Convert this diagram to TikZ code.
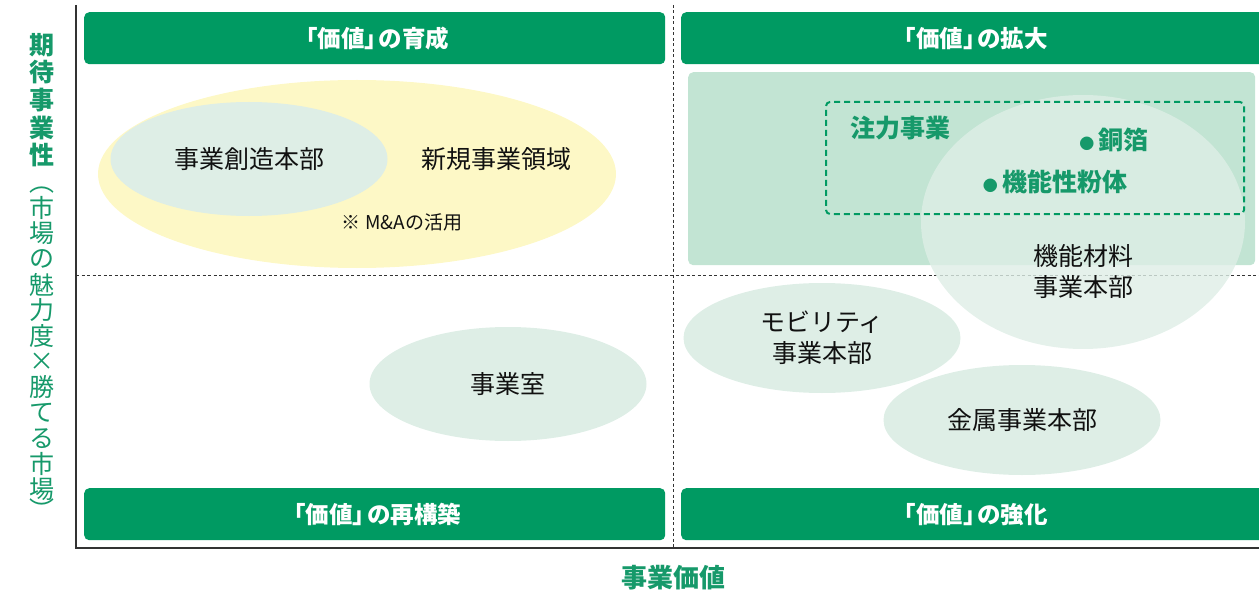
\documentclass[tikz,border=0pt]{standalone}
\usepackage{fontspec}
\setmainfont{Noto Sans CJK JP}
\usetikzlibrary{shapes.geometric}
\definecolor{hdr}{HTML}{009A62}
\definecolor{gtext}{HTML}{16996A}
\definecolor{mint}{HTML}{C2E4D3}
\definecolor{pale}{HTML}{DEEEE6}
\definecolor{yel}{HTML}{FDF8C6}
\definecolor{ink}{HTML}{111111}
\definecolor{axisc}{HTML}{333333}
\newcommand{\kaccho}[1]{\kern-0.25em「#1」\kern-0.4em}
\begin{document}
\begin{tikzpicture}[x=1pt,y=-1pt,
  hdrbox/.style={fill=hdr, rounded corners=5pt, text=white, minimum height=52, anchor=north west, inner sep=0,
    font=\fontsize{23.5}{26}\selectfont\bfseries},
  blob/.style={ellipse, fill=pale, inner sep=0, text=ink, align=center,
    font=\fontsize{25}{31}\selectfont},
  lbl/.style={text=ink, align=center, font=\fontsize{25}{31}\selectfont},
  glbl/.style={text=gtext, font=\fontsize{25}{28}\selectfont\bfseries},
  axisline/.style={draw=axisc, line width=1.1pt},
  gridline/.style={draw=axisc, line width=0.8pt, dash pattern=on 3pt off 2.5pt},
  ychar/.style={text=gtext, font=\fontsize{25}{27}\selectfont},
]
\useasboundingbox (0,0) rectangle (1259,591);

% grid and axes
\coordinate (vtop) at (673,5);
\coordinate (vbot) at (673,548);
\coordinate (hl) at (76,275);
\coordinate (hr) at (1259,275);
\coordinate (ytop) at (76,5);
\coordinate (orig) at (76,548);
\coordinate (xend) at (1259,548);
\draw[gridline] (vtop) -- (vbot);
\draw[gridline] (hl) -- (hr);
\draw[axisline] (ytop) -- (orig) -- (xend);

% headers
\node[hdrbox, minimum width=581] (h1) at (84,12) {\kaccho{価値}の育成};
\node[hdrbox, minimum width=584] (h2) at (681,12) {\kaccho{価値}の拡大};
\node[hdrbox, minimum width=581] (h3) at (84,488) {\kaccho{価値}の再構築};
\node[hdrbox, minimum width=584] (h4) at (681,488) {\kaccho{価値}の強化};

% top-left quadrant
\node[ellipse, fill=yel, minimum width=518, minimum height=188, inner sep=0] (newarea) at (357,174) {};
\node[blob, minimum width=277, minimum height=114] (souzou) at (249,159) {事業創造本部};
\node[lbl] (newlbl) at (496,159) {新規事業領域};
\node[text=ink, font=\fontsize{19}{22}\selectfont] (ma) at (402,222) {※ M\&Aの活用};

% top-right quadrant
\node[fill=mint, rounded corners=5pt, minimum width=567, minimum height=193, anchor=north west, inner sep=0] (focusarea) at (688,72) {};
\node[ellipse, fill=pale, fill opacity=0.8, minimum width=324, minimum height=254, inner sep=0] (kinou) at (1083,222) {};
\node[draw=hdr, line width=2pt, dash pattern=on 6pt off 4pt, rounded corners=4pt, minimum width=418, minimum height=112, anchor=north west, inner sep=0] (focusbox) at (825,101) {};
\node[glbl] (focuslbl) at (900,128) {注力事業};
\node[glbl] (douhaku) at (1114,140) {{\fontsize{15}{16}\selectfont ●}\,銅箔};
\node[glbl] (funtai) at (1055,182) {{\fontsize{15}{16}\selectfont ●}\,機能性粉体};
\node[lbl] (kinoulbl) at (1083,272) {機能材料\\事業本部};

% bottom quadrants
\node[blob, minimum width=277, minimum height=114] (jigyoushitsu) at (508,384) {事業室};
\node[blob, minimum width=277, minimum height=110] (mobility) at (822,338) {モビリティ\\事業本部};
\node[blob, minimum width=277, minimum height=110] (kinzoku) at (1022,420) {金属事業本部};

% axis labels
\node[text=gtext, font=\fontsize{26}{28}\selectfont\bfseries] (xlabel) at (673,578) {事業価値};
\foreach \c [count=\i from 0] in {期,待,事,業,性}
  \node[ychar, font=\fontsize{25}{27}\selectfont\bfseries] (yb\i) at (42,{45+27.5*\i}) {\c};
\node[ychar] (yp1) at (42,182) {\rotatebox{-90}{（}};
\foreach \c [count=\i from 0] in {市,場,の,魅,力,度,×,勝,て,る,市,場}
  \node[ychar] (yc\i) at (42,{208+25.6*\i}) {\c};
\node[ychar] (yp2) at (42,510) {\rotatebox{-90}{）}};
\end{tikzpicture}
\end{document}
